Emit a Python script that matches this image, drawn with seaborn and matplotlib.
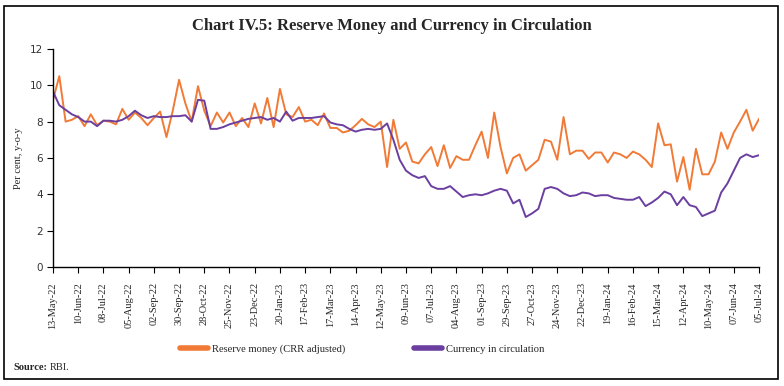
import matplotlib
matplotlib.use('Agg')
import matplotlib.pyplot as plt
from matplotlib.patches import Rectangle
import seaborn as sns
import pandas as pd

# weekly observations, 13-May-2022 to 05-Jul-2024
dates = pd.date_range('2022-05-13', '2024-07-05', freq='7D')

reserve_money = [
    9.2, 10.5, 8.0, 8.1, 8.3, 7.75, 8.4, 7.8, 8.05, 8.0,
    7.85, 8.7, 8.1, 8.5, 8.2, 7.8, 8.2, 8.55, 7.15, 8.6,
    10.3, 9.0, 8.0, 9.95, 8.6, 7.75, 8.5, 7.95, 8.5, 7.75,
    8.2, 7.7, 9.0, 7.9, 9.3, 7.7, 9.8, 8.4, 8.25, 8.8,
    8.0, 8.1, 7.8, 8.45, 7.65, 7.65, 7.4, 7.5, 7.8, 8.15,
    7.85, 7.7, 8.0, 5.5, 8.1, 6.5, 6.85, 5.8, 5.7, 6.2,
    6.6, 5.55, 6.7, 5.45, 6.1, 5.9, 5.9, 6.7, 7.45, 6.0,
    8.5, 6.6, 5.15, 6.0, 6.2, 5.3, 5.6, 5.9, 7.0, 6.9,
    5.9, 8.25, 6.2, 6.4, 6.4, 5.95, 6.3, 6.3, 5.75, 6.3,
    6.2, 6.0, 6.35, 6.2, 5.9, 5.5, 7.9, 6.7, 6.75, 4.7,
    6.05, 4.25, 6.5, 5.1, 5.1, 5.8, 7.4, 6.5, 7.4, 8.0,
    8.65, 7.5, 8.15,
]

currency = [
    9.65, 8.9, 8.65, 8.4, 8.25, 8.0, 8.0, 7.75, 8.05, 8.05,
    8.0, 8.1, 8.3, 8.6, 8.35, 8.2, 8.3, 8.25, 8.25, 8.3,
    8.3, 8.35, 8.0, 9.2, 9.15, 7.6, 7.6, 7.7, 7.85, 7.95,
    8.05, 8.15, 8.2, 8.25, 8.1, 8.2, 8.0, 8.55, 8.05, 8.2,
    8.2, 8.2, 8.25, 8.3, 7.95, 7.85, 7.8, 7.6, 7.45, 7.55,
    7.6, 7.55, 7.6, 7.9, 7.0, 5.9, 5.3, 5.05, 4.9, 5.0,
    4.45, 4.3, 4.3, 4.45, 4.15, 3.85, 3.95, 4.0, 3.95, 4.05,
    4.2, 4.3, 4.2, 3.5, 3.7, 2.75, 2.95, 3.2, 4.3, 4.4,
    4.3, 4.05, 3.9, 3.95, 4.1, 4.05, 3.9, 3.95, 3.95, 3.8,
    3.75, 3.7, 3.7, 3.85, 3.35, 3.55, 3.8, 4.15, 4.0, 3.4,
    3.85, 3.4, 3.3, 2.8, 2.95, 3.1, 4.1, 4.6, 5.3, 6.0,
    6.2, 6.05, 6.15,
]

weeks = list(range(len(dates)))
tick_pos = weeks[::4]
tick_labels = [d.strftime('%d-%b-%y') for d in dates[::4]]

sns.set_style('white')
plt.rcParams['font.family'] = ['Liberation Serif', 'DejaVu Serif']

fig = plt.figure(figsize=(7.84, 3.86), dpi=100)
ax = fig.add_axes([0.0676, 0.3083, 0.9005, 0.565])

sns.lineplot(x=weeks, y=reserve_money, ax=ax, color='#F07A36', lw=1.4,
             label='Reserve money (CRR adjusted)', legend=False)
sns.lineplot(x=weeks, y=currency, ax=ax, color='#6B3FA0', lw=1.4,
             label='Currency in circulation', legend=False)

ax.set_xlim(0, weeks[-1])
ax.set_ylim(0, 12)
ax.set_yticks(range(0, 13, 2))
ax.set_yticklabels([str(v) for v in range(0, 13, 2)], family='DejaVu Sans',
                   fontsize=7.5, color='#333333')
ax.set_xticks(tick_pos)
ax.set_xticklabels(tick_labels, rotation=90, fontsize=7.5)
ax.tick_params(axis='both', direction='out', length=4, width=0.8, color='black',
               bottom=True, left=True, pad=3)
ax.tick_params(axis='x', pad=7)
ax.set_ylabel('Per cent, y-o-y', fontsize=7.5, labelpad=5)
ax.set_xlabel('')
sns.despine(ax=ax)
for s in ['left', 'bottom']:
    ax.spines[s].set_color('black')
    ax.spines[s].set_linewidth(1.0)

handles, labels = ax.get_legend_handles_labels()
leg = fig.legend(handles, labels, loc='center', bbox_to_anchor=(0.462, 0.096),
                 ncol=2, frameon=False, fontsize=7.6, handlelength=2.6,
                 columnspacing=6.6, handletextpad=0.35)
for h in leg.get_lines():
    h.set_linewidth(4)

fig.text(0.5, 0.932, 'Chart IV.5: Reserve Money and Currency in Circulation',
         ha='center', va='center', fontsize=12, fontweight='bold')
fig.text(0.017, 0.047, 'Source:', fontsize=7.5, fontweight='bold', va='center')
fig.text(0.064, 0.047, 'RBI.', fontsize=7.5, va='center')

fig.patches.append(Rectangle((0.005, 0.018), 0.987, 0.966, transform=fig.transFigure,
                             fill=False, edgecolor='black', lw=1.2))

fig.savefig('out.png', dpi=100)
